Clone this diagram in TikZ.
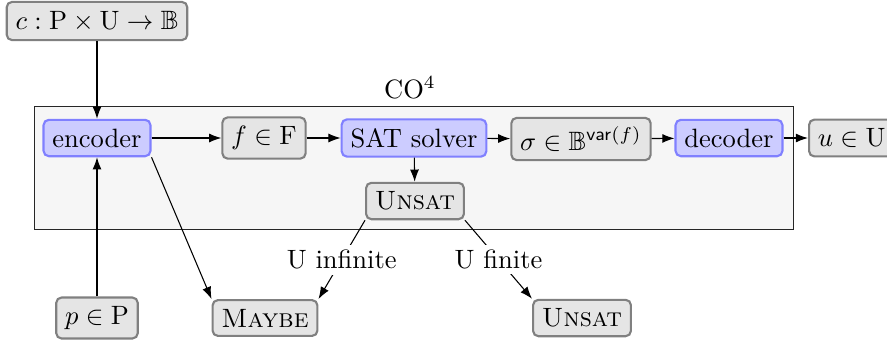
\documentclass[tikz,border=0pt]{standalone}
\usepackage{amssymb}
\usetikzlibrary{arrows.meta}
\begin{document}
\begin{tikzpicture}[x=0.377pt,y=-0.377pt,
  databox/.style={draw=gray, fill=gray!20, thick, rounded corners=2pt},
  procbox/.style={draw=blue!50, fill=blue!20, thick, rounded corners=2pt},
  flow/.style={-{Latex[length=4.6pt,width=3.4pt]}},
  lbl/.style={fill=white, inner sep=2pt}]
\useasboundingbox (0,0) rectangle (887,343);
\clip (0,0) rectangle (887,343);

% enclosing CO4 frame
\draw[draw=black!85, line width=0.35pt, fill=gray!7] (34,106) rectangle (793,229);
\node (co4) at (410,88) {CO$^4$};

% pipeline
\node[databox] (c) at (97,21) {$c : \mathrm{P} \times \mathrm{U} \to \mathbb{B}$};
\node[procbox] (enc) at (97,138) {encoder};
\node[databox] (f) at (264,138) {$f \in \mathrm{F}$};
\node[procbox] (sat) at (414,138) {SAT solver};
\node[databox] (sigma) at (581,139) {$\sigma \in \mathbb{B}^{\mathsf{var}(f)}$};
\node[procbox] (dec) at (729,138) {decoder};
\node[databox, anchor=west] (u) at (808,138) {$u \in \mathrm{U}$};
\node[databox] (unsat) at (415,201) {\textsc{Unsat}};

\node[databox] (p) at (97,318) {$p \in \mathrm{P}$};
\node[databox] (maybe) at (265,318) {\textsc{Maybe}};
\node[databox] (unsat2) at (582,318) {\textsc{Unsat}};

% connectors
\draw[flow] (c) -- (enc);
\draw[flow] (p) -- (enc);
\draw[flow] (enc) -- (f);
\draw[flow] (f) -- (sat);
\draw[flow] (sat) -- (sigma);
\draw[flow] (sigma) -- (dec);
\draw[flow] (dec) -- (u);
\draw[flow] (sat) -- (unsat);
\draw[flow] (enc.south east) -- (maybe.north west);
\draw[flow] (unsat.south west) -- node[lbl] {U infinite} (maybe.north east);
\draw[flow] (unsat.south east) -- node[lbl] {U finite} (unsat2.north west);
\end{tikzpicture}
\end{document}
